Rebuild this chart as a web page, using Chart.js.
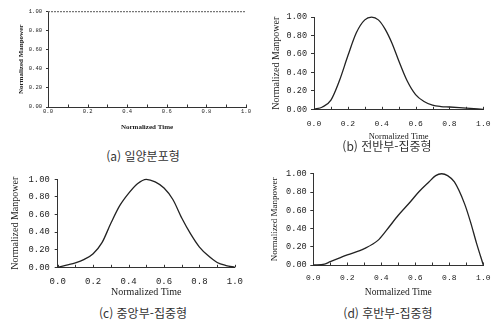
<!DOCTYPE html>
<html lang="ko">
<head>
<meta charset="UTF-8">
<title>Normalized Manpower Profiles</title>
<script src="https://cdn.jsdelivr.net/npm/chart.js"></script>
<style>
  body { margin: 0; background: #fff; }
  #wrap { position: relative; width: 501px; height: 329px; overflow: hidden; }
  .box { position: absolute; }
  .cap { position: absolute; font-family: "Noto Sans CJK KR", sans-serif; font-size: 12px; color: #333; white-space: nowrap; transform: translate(-50%, -50%); }
</style>
</head>
<body>
<div id="wrap">
  <div class="box" style="left:0px;top:4px;width:254px;height:128px"><canvas id="chartA"></canvas></div>
  <div class="box" style="left:262px;top:8px;width:238px;height:136px"><canvas id="chartB"></canvas></div>
  <div class="box" style="left:0px;top:169px;width:252px;height:132px"><canvas id="chartC"></canvas></div>
  <div class="box" style="left:262px;top:165px;width:237px;height:135px"><canvas id="chartD"></canvas></div>
  <div class="cap" style="left:143px;top:155px">(a) 일양분포형</div>
  <div class="cap" style="left:387px;top:145px">(b) 전반부-집중형</div>
  <div class="cap" style="left:143px;top:312px">(c) 중앙부-집중형</div>
  <div class="cap" style="left:388px;top:312px">(d) 후반부-집중형</div>
</div>
<script>
// values
const aTime = [0, 0.5, 1];
const aPower = [1, 1, 1];

const bTime = [0, 0.05, 0.1, 0.15, 0.2, 0.25, 0.3, 0.34, 0.38, 0.42, 0.46, 0.5, 0.55, 0.6, 0.65, 0.7, 0.75, 0.8, 0.9, 1.0];
const bPower = [0, 0.025, 0.1, 0.31, 0.58, 0.83, 0.97, 1.0, 0.97, 0.87, 0.72, 0.53, 0.31, 0.16, 0.085, 0.045, 0.03, 0.025, 0.012, 0];

const cTime = [0, 0.05, 0.1, 0.15, 0.2, 0.25, 0.3, 0.35, 0.4, 0.45, 0.5, 0.55, 0.6, 0.65, 0.7, 0.75, 0.8, 0.85, 0.9, 0.95, 1.0];
const cPower = [0, 0.025, 0.05, 0.09, 0.155, 0.28, 0.5, 0.7, 0.84, 0.95, 1.0, 0.97, 0.9, 0.77, 0.56, 0.38, 0.23, 0.13, 0.055, 0.02, 0];

const dTime = [0, 0.066, 0.1, 0.2, 0.3, 0.38, 0.43, 0.5, 0.57, 0.62, 0.68, 0.72, 0.755, 0.79, 0.83, 0.89, 0.925, 0.96, 1.0];
const dPower = [0, 0.01, 0.036, 0.11, 0.18, 0.27, 0.38, 0.545, 0.69, 0.8, 0.91, 0.98, 1.0, 0.98, 0.91, 0.67, 0.47, 0.24, 0];

const xTitle = 'Normalized Time';
const yTitle = 'Normalized Manpower';

// small tick marks drawn inside, above the x axis
const innerTicks = {
  id: 'innerTicks',
  afterDraw(chart) {
    const sx = chart.scales.x;
    const ctx = chart.ctx;
    ctx.save();
    ctx.strokeStyle = '#333';
    ctx.lineWidth = 1;
    sx.ticks.forEach(t => {
      const px = Math.round(sx.getPixelForValue(t.value)) + 0.5;
      ctx.beginPath();
      ctx.moveTo(px, sx.top);
      ctx.lineTo(px, sx.top - 2.5);
      ctx.stroke();
    });
    ctx.restore();
  }
};

function makeChart(id, xs, ys, o) {
  const pts = xs.map((x, i) => ({ x: x, y: ys[i] }));
  return new Chart(document.getElementById(id), {
    type: 'line',
    data: {
      datasets: [{
        data: pts,
        borderColor: o.lineColor,
        borderWidth: o.lineWidth,
        borderDash: o.dash || [],
        pointRadius: 0,
        cubicInterpolationMode: 'monotone',
        fill: false,
        clip: false
      }]
    },
    options: {
      responsive: true,
      maintainAspectRatio: false,
      animation: false,
      layout: { padding: { top: o.padTop, right: o.padRight, left: 0, bottom: 0 } },
      plugins: { legend: { display: false }, tooltip: { enabled: false } },
      scales: {
        x: {
          type: 'linear',
          min: 0, max: 1,
          afterFit: s => { s.height = o.xH; },
          border: { color: '#333', width: 1 },
          grid: { drawOnChartArea: false, drawTicks: false },
          ticks: {
            stepSize: 0.1,
            autoSkip: false,
            maxRotation: 0,
            padding: o.xPad,
            color: '#222',
            font: { family: 'Liberation Mono', size: o.xFont },
            callback: v => (Math.round(v * 10) % 2 === 0 ? v.toFixed(1) : '')
          },
          title: {
            display: true,
            text: xTitle,
            color: '#222',
            font: { family: 'Liberation Serif', size: o.xtFont, weight: o.bold ? 'bold' : 'normal' },
            padding: { top: 0, bottom: o.xtPad }
          }
        },
        y: {
          min: 0, max: 1,
          afterFit: s => { s.width = o.yW; },
          border: { color: '#333', width: 1 },
          grid: { drawOnChartArea: false, drawTicks: true, tickLength: o.yTick, color: '#333' },
          ticks: {
            stepSize: 0.2,
            padding: o.yPad,
            color: '#222',
            font: { family: 'Liberation Mono', size: o.yFont },
            callback: v => v.toFixed(2)
          },
          title: {
            display: true,
            text: yTitle,
            color: '#222',
            font: { family: 'Liberation Serif', size: o.ytFont, weight: o.bold ? 'bold' : 'normal' },
            padding: { top: o.ytPad, bottom: 0 }
          }
        }
      }
    },
    plugins: [innerTicks]
  });
}

makeChart('chartA', aTime, aPower, {
  lineColor: '#777', lineWidth: 1.2, dash: [2, 1],
  padTop: 7.7, padRight: 8, xH: 25, yW: 48,
  xPad: 1.5, xFont: 5.5, xtFont: 7, xtPad: 0.8,
  yTick: 2, yPad: 4, yFont: 5.5, ytFont: 7, ytPad: 16.8, bold: true
});

makeChart('chartB', bTime, bPower, {
  lineColor: '#222', lineWidth: 1.3,
  padTop: 8, padRight: 9.5, xH: 34.7, yW: 52,
  xPad: 9.5, xFont: 8, xtFont: 8.5, xtPad: 1.9,
  yTick: 3, yPad: 4, yFont: 8.5, ytFont: 10, ytPad: 8
});

makeChart('chartC', cTime, cPower, {
  lineColor: '#222', lineWidth: 1.3,
  padTop: 8.3, padRight: 10, xH: 33.7, yW: 57.7,
  xPad: 9, xFont: 9, xtFont: 10, xtPad: 2.3,
  yTick: 3, yPad: 5, yFont: 8.8, ytFont: 10, ytPad: 9
});

makeChart('chartD', dTime, dPower, {
  lineColor: '#222', lineWidth: 1.3,
  padTop: 8.3, padRight: 9, xH: 35, yW: 51.3,
  xPad: 8.5, xFont: 8, xtFont: 9.5, xtPad: 2.3,
  yTick: 3, yPad: 3.6, yFont: 8.6, ytFont: 9, ytPad: 7.6
});
</script>
</body>
</html>
